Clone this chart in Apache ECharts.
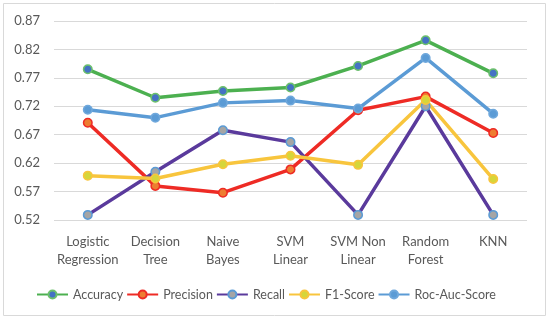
<!DOCTYPE html>
<html><head><meta charset="utf-8">
<script src="https://cdn.jsdelivr.net/npm/echarts@6/dist/echarts.min.js"></script>
<style>html,body{margin:0;padding:0;background:#fff}#c{width:550px;height:321px}</style>
</head><body><div id="c"></div>
<script>
const categories = ['Logistic\nRegression','Decision\nTree','Naive\nBayes','SVM\nLinear','SVM Non\nLinear','Random\nForest','KNN'];
const accuracy  = [0.785, 0.735, 0.747, 0.753, 0.791, 0.836, 0.778];
const precision = [0.691, 0.580, 0.568, 0.609, 0.713, 0.737, 0.673];
const recall    = [0.529, 0.605, 0.678, 0.657, 0.529, 0.720, 0.529];
const f1score   = [0.598, 0.593, 0.618, 0.633, 0.617, 0.731, 0.592];
const rocauc    = [0.714, 0.700, 0.726, 0.730, 0.716, 0.805, 0.707];
const yTicks = [0.52, 0.57, 0.62, 0.67, 0.72, 0.77, 0.82, 0.87];
// axis is shifted by this offset so that min is a multiple of the interval
const OFFSET = 0.02;
const shift = a => a.map(v => +(v - OFFSET).toFixed(4));

const font = 'Lato';
function mk(name, data, color, fill, border) {
  return {
    name, type: 'line', data: shift(data),
    symbol: 'circle', symbolSize: 8.5,
    lineStyle: {color, width: 3.5},
    itemStyle: {color: fill, borderColor: border, borderWidth: 1.5},
    z: 2
  };
}
const chart = echarts.init(document.getElementById('c'));
chart.setOption({
  animation: false,
  textStyle: {fontFamily: font},
  graphic: [{type: 'rect', shape: {x: 3.5, y: 3.5, width: 542, height: 312},
    style: {fill: 'none', stroke: '#d9d9d9', lineWidth: 1}, silent: true}],
  grid: {left: 54, right: 23, top: 21, bottom: 101},
  xAxis: {
    type: 'category', data: categories, boundaryGap: true,
    axisLine: {show: false}, axisTick: {show: false},
    axisLabel: {color: '#595959', fontSize: 13, lineHeight: 18, margin: 13, fontFamily: font, interval: 0}
  },
  yAxis: {
    type: 'value', min: yTicks[0] - OFFSET, max: yTicks[yTicks.length - 1] - OFFSET, interval: 0.05,
    axisLine: {show: false}, axisTick: {show: false},
    splitLine: {lineStyle: {color: '#d9d9d9', width: 1}},
    axisLabel: {color: '#595959', fontSize: 13, margin: 14, fontFamily: font,
      formatter: v => (v + OFFSET).toFixed(2)}
  },
  legend: {
    left: 31, top: 283, itemWidth: 31, itemHeight: 10, itemGap: 3,
    textStyle: {color: '#595959', fontSize: 12.5, fontFamily: font},
    data: ['Accuracy','Precision','Recall','F1-Score','Roc-Auc-Score']
  },
  series: [
    mk('Accuracy', accuracy, '#4cb050', '#4472c4', '#6cc06c'),
    mk('Precision', precision, '#ee2b25', '#ed7d31', '#ee2b25'),
    mk('Recall', recall, '#5a3a9c', '#a5a5a5', '#5b9bd5'),
    mk('F1-Score', f1score, '#f8c53d', '#d6d63a', '#f8c53d'),
    mk('Roc-Auc-Score', rocauc, '#5b9bd5', '#5b9bd5', '#6fa8dc')
  ]
});
</script></body></html>
